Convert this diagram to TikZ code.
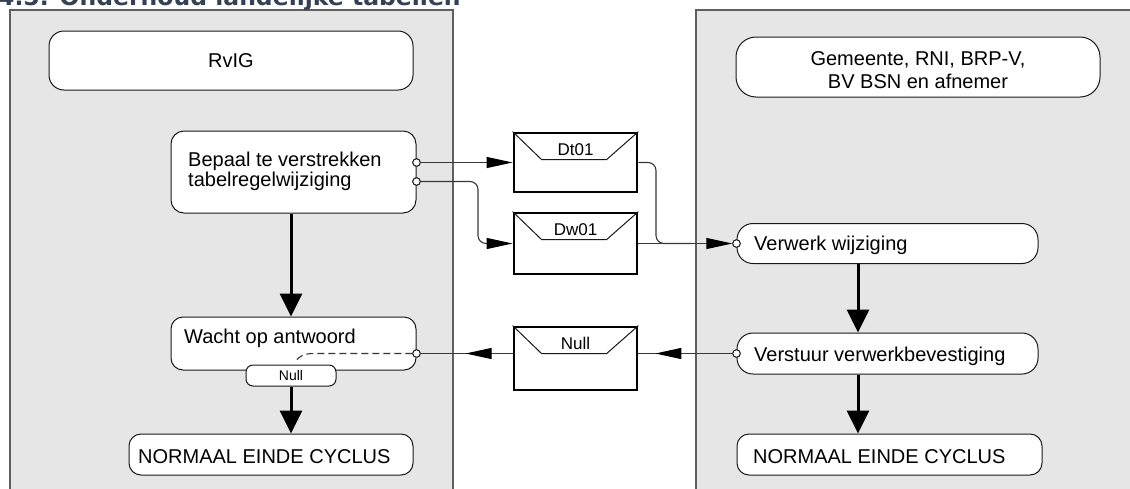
\documentclass[tikz,border=0pt]{standalone}
\usepackage{fontspec}
\setmainfont{Liberation Sans}
\newfontfamily\headfont{DejaVu Sans}
\usepackage{xcolor}
\usetikzlibrary{arrows.meta}
\usetikzlibrary{decorations.markings, math}
\definecolor{lanegray}{RGB}{230,230,230}
\definecolor{laneedge}{RGB}{95,95,95}
\definecolor{boxedge}{RGB}{25,25,25}
\definecolor{msggray}{RGB}{55,55,55}
\definecolor{titleblue}{RGB}{52,64,84}

\tikzset{
lane/.style={fill=lanegray, draw=laneedge, line width=1.2pt},
procbox/.style={draw=boxedge, fill=white, line width=1pt, inner sep=0pt},
txt/.style={inner sep=0pt, font=\fontsize{20}{20}\selectfont},
envbox/.style={draw=black, fill=white, line width=2.8pt, minimum width=123pt, inner sep=0pt},
flap/.style={draw=boxedge, line width=1pt},
envtxt/.style={inner sep=0pt, font=\fontsize{17}{17}\selectfont},
port/.style={circle, draw=boxedge, fill=white, line width=0.9pt, minimum size=7.5pt, inner sep=0pt},
msg/.style={draw=msggray, line width=1.1pt},
msgtip/.style={-{Triangle[length=26pt,width=11pt,color=black]}},
flow/.style={line width=3pt, -{Triangle[length=23pt,width=22pt]}},
midtip/.style={postaction={decorate}, decoration={markings,
  mark=at position #1 with {\arrow{Triangle[length=26pt,width=11pt,color=black]}}}}
}

% envelope: name, centre, height, label
\newcommand{\msgenv}[4]{%
\node[envbox, minimum height=#3pt] (#1) at (#2) {};
\draw[flap] (#1.north west) -- ++(29,28) -- ++(65,0) -- (#1.north east);
\node[envtxt, anchor=base] (#1-txt) at ([yshift=-23.5pt]#1.north) {#4};
}

\begin{document}
\begin{tikzpicture}[x=1pt,y=-1pt]

\tikzmath{
\colL = 291; %flow column left lane
\colR = 858; %flow column right lane
}

\useasboundingbox (0,0) rectangle (1130,488);
\clip (0,0) rectangle (1130,488);

%lanes:
\draw[lane] (10,10) rectangle (453,500);
\draw[lane] (696,10) rectangle (1145,500);
\node[anchor=base west, inner sep=0pt, text=titleblue,
  font=\headfont\bfseries\fontsize{23.5}{24}\selectfont] (title) at (-2,5)
  {4.5. Onderhoud landelijke tabellen};

\coordinate (colL) at (\colL,0);
\coordinate (colR) at (\colR,0);

%RvIG lane
\node[procbox, rounded corners=15pt, minimum width=364pt, minimum height=59pt, txt] (rvig) at (231,60.5) {RvIG};
\node[procbox, rounded corners=13pt, minimum width=245pt, minimum height=82pt] (bepaal) at (293.5,172) {};
\node[txt, anchor=north west, align=left, font=\fontsize{20}{18}\selectfont] (bepaal-txt) at (188,152)
  {Bepaal te verstrekken\\tabelregelwijziging};
\node[procbox, rounded corners=12pt, minimum width=245pt, minimum height=53pt] (wacht) at (293.5,343.5) {};
\node[txt, anchor=base west] (wacht-txt) at (184,343) {Wacht op antwoord};
\node[procbox, rounded corners=7pt, minimum width=90pt, minimum height=21pt,
  font=\fontsize{14}{14}\selectfont] (nulltab) at (\colL,375.5) {Null};
\node[procbox, rounded corners=12pt, minimum width=284pt, minimum height=41pt] (eindeL) at (271,454.5) {};
\node[txt, anchor=base west] (eindeL-txt) at (138,463) {NORMAAL EINDE CYCLUS};

%other lane
\node[procbox, rounded corners=20pt, minimum width=364pt, minimum height=60pt] (gem) at (918,67) {};
\node[txt, anchor=north, align=center, font=\fontsize{20}{23.3}\selectfont] (gem-txt) at (918,51.5)
  {Gemeente, RNI, BRP-V,\\BV BSN en afnemer};
\node[procbox, rounded corners=16pt, minimum width=301pt, minimum height=40pt] (verwerk) at (887.5,243.5) {};
\node[txt, anchor=base west] (verwerk-txt) at (754,250.5) {Verwerk wijziging};
\node[procbox, rounded corners=16pt, minimum width=301pt, minimum height=41pt] (verstuur) at (887.5,353.5) {};
\node[txt, anchor=base west] (verstuur-txt) at (754,361.5) {Verstuur verwerkbevestiging};
\node[procbox, rounded corners=12pt, minimum width=305pt, minimum height=41pt] (eindeR) at (889.5,454.5) {};
\node[txt, anchor=base west] (eindeR-txt) at (753,463) {NORMAAL EINDE CYCLUS};

%messages
\msgenv{dt01}{575.5,162.5}{59}{Dt01}
\msgenv{dw01}{575.5,243.5}{61}{Dw01}
\msgenv{nullenv}{575.5,358.5}{63}{Null}

\node[port] (bport1) at (bepaal.east |- dt01.east) {};
\node[port] (bport2) at ([yshift=-19pt]bport1.center) {};
\node[port] (vport) at (verwerk.west) {};
\node[port] (sport) at (verstuur.west) {};
\node[port] (wport) at (wacht.east |- sport) {};

\draw[msg, msgtip] (bport1.east) -- (dt01.west);
\draw[msg, msgtip, rounded corners=8pt] (bport2.east) -| (478,220) |- (dw01.west);
\draw[msg, rounded corners=8pt] (dt01.east) -| (656,220) |- ([xshift=-40pt]vport.west);
\draw[msg, msgtip] (dw01.east) -- (vport.west);
\draw[msg, midtip=77pt] (sport.west) -- (nullenv.east |- sport);
\draw[msg, midtip=47pt] (nullenv.west |- wport) -- (wport.east);
\draw[msg, dash pattern=on 7pt off 4pt] (wport.west) -- ++(-96,0)
  .. controls +(-14,0) and +(6,-6) .. ([xshift=4pt,yshift=3pt]nulltab.north);

%ports on top
\foreach \p in {bport1,bport2,vport,sport,wport}
  \node[port] at (\p) {};

%flow
\draw[flow] (bepaal.south -| colL) -- (wacht.north -| colL);
\draw[flow] (nulltab.south) -- (eindeL.north -| colL);
\draw[flow] (verwerk.south -| colR) -- (verstuur.north -| colR);
\draw[flow] (verstuur.south -| colR) -- (eindeR.north -| colR);

\end{tikzpicture}
\end{document}
